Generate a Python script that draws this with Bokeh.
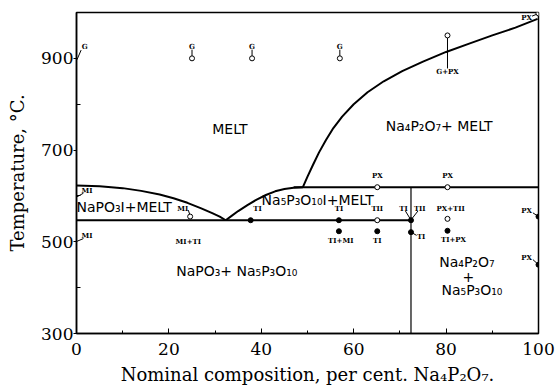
from bokeh.plotting import figure
from bokeh.models import FixedTicker, ColumnDataSource
from bokeh.core.properties import value
from bokeh.embed import file_html
from bokeh.resources import INLINE

# ---------------- data (composition %, temperature degC) ----------------
X_TICKS = [0, 20, 40, 60, 80, 100]
X_MINOR = [10, 30, 50, 70, 90]
Y_TICKS = [300, 500, 700, 900]
Y_MINOR = [400, 600, 800]

NAPO3_X = [0, 5, 10, 14, 18, 21, 24, 27, 29.5, 31, 32.3]
NAPO3_T = [623, 621, 617, 611, 603, 595, 585, 573, 562, 555, 547]
TRIPOLY_X = [32.3, 33.5, 35, 37, 39, 41, 43, 45, 47, 49]
TRIPOLY_T = [547, 556, 567, 580, 592, 602, 610, 615, 618, 619]
PYRO_X = [49, 50, 51.2, 52.5, 54, 55.6, 57.5, 60, 63, 66.5, 70.5, 75, 80, 85, 90, 95, 99.8]
PYRO_T = [619, 642, 668, 695, 722, 748, 773, 800, 826, 850, 872, 893, 914, 932, 950, 967, 986]

EUTECTIC_T = 547
PERITECTIC_T = 619
EUTECTIC_END_X = 72.4
PERITECTIC_START_X = 47.0
COMPOUND_X = 72.4

OPEN_X = [25, 38, 57, 80.3, 100, 65.1, 80.3, 65.1, 80.3, 24.6]
OPEN_T = [900, 900, 900, 950, 998, 619, 619, 547, 550, 555]
FILLED_X = [37.7, 56.8, 72.4, 56.8, 65.1, 72.4, 80.3, 100, 100]
FILLED_T = [547, 547, 547, 523, 523, 521, 524, 555, 450]

SMALL_TXT = ["G", "G", "G", "G", "G+PX", "PX", "PX", "PX", "MI", "MI", "MI",
             "MI+TI", "TI", "TI", "TII", "TI", "TII", "PX+TII", "TI+MI", "TI",
             "TI", "TI+PX", "PX", "PX"]
SMALL_X = [1.8, 25, 38, 57, 80.3, 97.4, 65.1, 80.3, 2.3, 2.3, 23,
           24.2, 39.2, 56.8, 65.1, 70.8, 74.3, 81.0, 57.2, 65.1,
           74.6, 81.6, 97.4, 97.4]
SMALL_T = [926, 925, 925, 925, 871, 990, 645, 645, 612, 513, 572,
           501, 573, 573, 573, 573, 573, 573, 503, 503,
           511, 505, 568, 466]

SEG_X0 = [25, 38, 57, 80.3, 1.0, 98.6, 1.5, 1.5, 24.2, 71.2, 73.9, 72.4, 98.8, 98.8]
SEG_T0 = [919, 919, 919, 947, 918, 992, 606, 507, 569, 567, 567, 521, 563, 461]
SEG_X1 = [25, 38, 57, 80.3, 0.1, 99.8, 0.1, 0.1, 24.6, 72.3, 72.5, 73.6, 100, 100]
SEG_T1 = [903, 903, 903, 878, 897, 997, 598, 501, 557, 549, 549, 514, 555, 450]

REGION_TXT = ["MELT", "Na\u2084P\u2082O\u2087+ MELT", "NaPO\u2083I+MELT",
              "Na\u2085P\u2083O\u2081\u2080I+MELT", "NaPO\u2083+ Na\u2085P\u2083O\u2081\u2080",
              "Na\u2084P\u2082O\u2087", "+", "Na\u2085P\u2083O\u2081\u2080"]
REGION_X = [33.2, 78.5, 10.3, 52.2, 34.7, 84.5, 84.8, 85.6]
REGION_T = [747, 753, 575, 592, 437, 457, 424, 394]

# ---------------- figure ----------------
p = figure(width=557, height=390, x_range=(0, 100), y_range=(300, 1000),
           output_backend="svg", toolbar_location=None,
           min_border_left=76, min_border_right=19, min_border_top=12,
           min_border_bottom=57)
p.background_fill_color = "white"
p.border_fill_color = "white"
p.outline_line_color = "black"
p.outline_line_width = 1.5
p.xgrid.visible = False
p.ygrid.visible = False

serif = "DejaVu Serif"
p.xaxis.ticker = FixedTicker(ticks=X_TICKS, minor_ticks=X_MINOR)
p.yaxis.ticker = FixedTicker(ticks=Y_TICKS, minor_ticks=Y_MINOR)
for ax in (p.xaxis, p.yaxis):
    ax.axis_line_color = "black"
    ax.axis_line_width = 1.5
    ax.major_label_text_font = serif
    ax.major_label_text_font_size = "17px"
    ax.major_label_text_color = "black"
    ax.axis_label_text_font = serif
    ax.axis_label_text_font_size = "18px"
    ax.axis_label_text_font_style = "normal"
    ax.axis_label_text_color = "black"
    ax.major_tick_line_color = "black"
    ax.minor_tick_line_color = "black"

p.xaxis.major_tick_in = 5
p.xaxis.major_tick_out = 0
p.xaxis.minor_tick_in = 3
p.xaxis.minor_tick_out = 0
p.xaxis.major_label_standoff = 9
p.xaxis.axis_label_standoff = 6
p.xaxis.axis_label = "Nominal composition, per cent. Na\u2084P\u2082O\u2087."

p.yaxis.major_tick_in = 0
p.yaxis.major_tick_out = 3
p.yaxis.minor_tick_in = 4
p.yaxis.minor_tick_out = 0
p.yaxis.major_label_standoff = 0
p.yaxis.axis_label_standoff = 10
p.yaxis.axis_label = "Temperature, \u00b0C."

# phase boundaries
p.multi_line(xs=[NAPO3_X, TRIPOLY_X, PYRO_X],
             ys=[NAPO3_T, TRIPOLY_T, PYRO_T], line_color="black", line_width=2,
             line_join="round")
p.line([0, EUTECTIC_END_X], [EUTECTIC_T, EUTECTIC_T], line_color="black", line_width=2)
p.line([PERITECTIC_START_X, 100], [PERITECTIC_T, PERITECTIC_T], line_color="black", line_width=2)
p.line([COMPOUND_X, COMPOUND_X], [300, PERITECTIC_T], line_color="black", line_width=1.2)

# stems / arrows
p.segment(x0=SEG_X0, y0=SEG_T0, x1=SEG_X1, y1=SEG_T1, line_color="black", line_width=1)

# experimental points
p.scatter(OPEN_X, OPEN_T, size=5, marker="circle", fill_color="white",
          line_color="black", line_width=1)
p.scatter(FILLED_X, FILLED_T, size=5, marker="circle", fill_color="black",
          line_color="black")

# small phase labels
src_small = ColumnDataSource(dict(x=SMALL_X, y=SMALL_T, t=SMALL_TXT))
p.text(x="x", y="y", text="t", source=src_small, text_font=value(serif),
       text_font_size="7px", text_font_style="bold", text_align="center",
       text_baseline="middle", text_color="black")

# region labels
src_reg = ColumnDataSource(dict(x=REGION_X, y=REGION_T, t=REGION_TXT))
p.text(x="x", y="y", text="t", source=src_reg, text_font=value("DejaVu Sans"),
       text_font_size="14px", text_align="center", text_baseline="middle",
       text_color="black")

open("out.html", "w").write(file_html(p, INLINE))
